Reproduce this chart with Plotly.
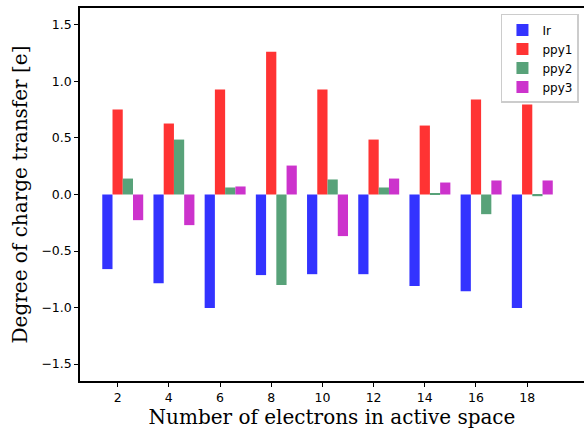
import plotly.graph_objects as go

electrons = [2, 4, 6, 8, 10, 12, 14, 16, 18]
ir = [-0.66, -0.785, -1.005, -0.713, -0.705, -0.705, -0.81, -0.855, -1.005]
ppy1 = [0.752, 0.628, 0.928, 1.264, 0.928, 0.486, 0.61, 0.84, 0.796]
ppy2 = [0.141, 0.486, 0.062, -0.80, 0.133, 0.062, 0.01, -0.174, -0.015]
ppy3 = [-0.227, -0.271, 0.071, 0.256, -0.368, 0.141, 0.106, 0.124, 0.124]

series = [
    ("Ir", ir, "rgb(51,51,255)", -0.6),
    ("ppy1", ppy1, "rgb(255,51,51)", -0.2),
    ("ppy2", ppy2, "rgb(88,162,121)", 0.2),
    ("ppy3", ppy3, "rgb(204,51,204)", 0.6),
]

fig = go.Figure()
for name, vals, color, off in series:
    fig.add_trace(go.Bar(
        x=electrons, y=vals, name=name,
        marker=dict(color=color, line=dict(width=0)),
        width=0.4, offset=off,
    ))

fig.update_layout(
    width=584, height=429,
    barmode="overlay",
    plot_bgcolor="white", paper_bgcolor="white",
    margin=dict(l=80, r=0, t=8, b=48),
    font=dict(family="DejaVu Sans", size=12, color="black"),
    legend=dict(
        x=0.99, y=0.984, xanchor="right", yanchor="top",
        bgcolor="white", bordercolor="#cccccc", borderwidth=1.5,
        font=dict(family="DejaVu Sans", size=12),
        tracegroupgap=0,
    ),
    showlegend=True,
)
fig.update_xaxes(
    range=[0.53, 20.22],
    tickmode="array", tickvals=electrons, ticktext=[str(e) for e in electrons],
    showgrid=False, zeroline=False,
    showline=True, linecolor="black", linewidth=1.5, mirror=True,
    ticks="outside", ticklen=4, tickwidth=1, tickcolor="black",
    tickfont=dict(family="DejaVu Sans", size=12.5),
    title=dict(text="Number of electrons in active space",
               font=dict(family="DejaVu Serif", size=20), standoff=4),
)
fig.update_yaxes(
    range=[-1.65, 1.65],
    tickmode="array", tickvals=[-1.5, -1.0, -0.5, 0.0, 0.5, 1.0, 1.5],
    tickformat=".1f",
    showgrid=False, zeroline=False,
    showline=True, linecolor="black", linewidth=1.5, mirror=False,
    ticks="outside", ticklen=4, tickwidth=1, tickcolor="black",
    tickfont=dict(family="DejaVu Sans", size=12.5),
    title=dict(text="Degree of charge transfer [e]",
               font=dict(family="DejaVu Serif", size=20), standoff=8),
)

fig.write_html(
    "out.html",
    config={"displayModeBar": False},
    post_script="document.body.style.margin='0';document.body.style.overflow='hidden';",
)
